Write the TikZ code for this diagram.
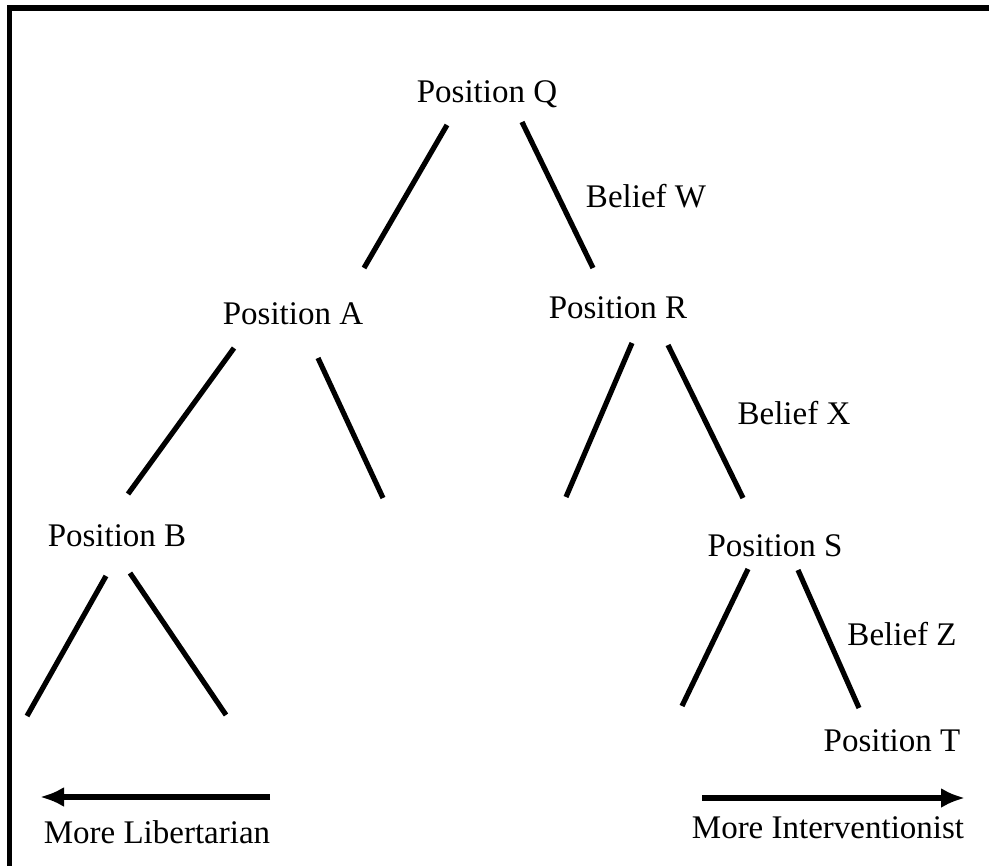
\documentclass[tikz,border=0pt]{standalone}
\usepackage{fontspec}
\setmainfont{Liberation Serif}
\usetikzlibrary{arrows.meta}
\begin{document}
\begin{tikzpicture}[x=0.5pt,y=-0.5pt,
  lbl/.style={inner sep=0pt, font=\fontsize{16.5}{20}\selectfont},
  edge/.style={line width=2.6pt},
  frame/.style={line width=2.6pt},
  dirarrow/.style={line width=2.6pt, -{Latex[length=12pt,width=10pt]}}]
\useasboundingbox (0,0) rectangle (989,866);
\fill[white] (0,0) rectangle (989,866);
% frame
\coordinate (f1) at (9.5,870);
\coordinate (f2) at (9.5,8);
\coordinate (f3) at (995,8);
\draw[frame] (f1) -- (f2) -- (f3);
% labels
\node[lbl] (Q) at (487,94) {Position Q};
\node[lbl] (A) at (293,314) {Position A};
\node[lbl] (R) at (618,308) {Position R};
\node[lbl] (B) at (117,536) {Position B};
\node[lbl] (S) at (775,546) {Position S};
\node[lbl] (T) at (892,741) {Position T};
\node[lbl] (W) at (646,196) {Belief W};
\node[lbl] (X) at (794,413) {Belief X};
\node[lbl] (Z) at (902,634) {Belief Z};
\node[lbl] (lib) at (157,832) {More Libertarian};
\node[lbl] (int) at (828,828) {More Interventionist};
% line endpoints
\coordinate (q1) at (447,125); \coordinate (q2) at (364,268);
\coordinate (q3) at (522,122); \coordinate (q4) at (593,268);
\coordinate (a1) at (234,348); \coordinate (a2) at (128,494);
\coordinate (a3) at (318,358); \coordinate (a4) at (383,498);
\coordinate (r1) at (632,343); \coordinate (r2) at (566,497);
\coordinate (r3) at (668,345); \coordinate (r4) at (743,498);
\coordinate (b1) at (106,576); \coordinate (b2) at (27,716);
\coordinate (b3) at (130,573); \coordinate (b4) at (226,715);
\coordinate (s1) at (748,569); \coordinate (s2) at (682,706);
\coordinate (s3) at (798,570); \coordinate (s4) at (859,708);
\draw[edge] (q1) -- (q2);
\draw[edge] (q3) -- (q4);
\draw[edge] (a1) -- (a2);
\draw[edge] (a3) -- (a4);
\draw[edge] (r1) -- (r2);
\draw[edge] (r3) -- (r4);
\draw[edge] (b1) -- (b2);
\draw[edge] (b3) -- (b4);
\draw[edge] (s1) -- (s2);
\draw[edge] (s3) -- (s4);
% arrows
\coordinate (la1) at (270,797); \coordinate (la2) at (40,797);
\coordinate (ra1) at (702,798); \coordinate (ra2) at (965,798);
\draw[dirarrow] (la1) -- (la2);
\draw[dirarrow] (ra1) -- (ra2);
\end{tikzpicture}
\end{document}
